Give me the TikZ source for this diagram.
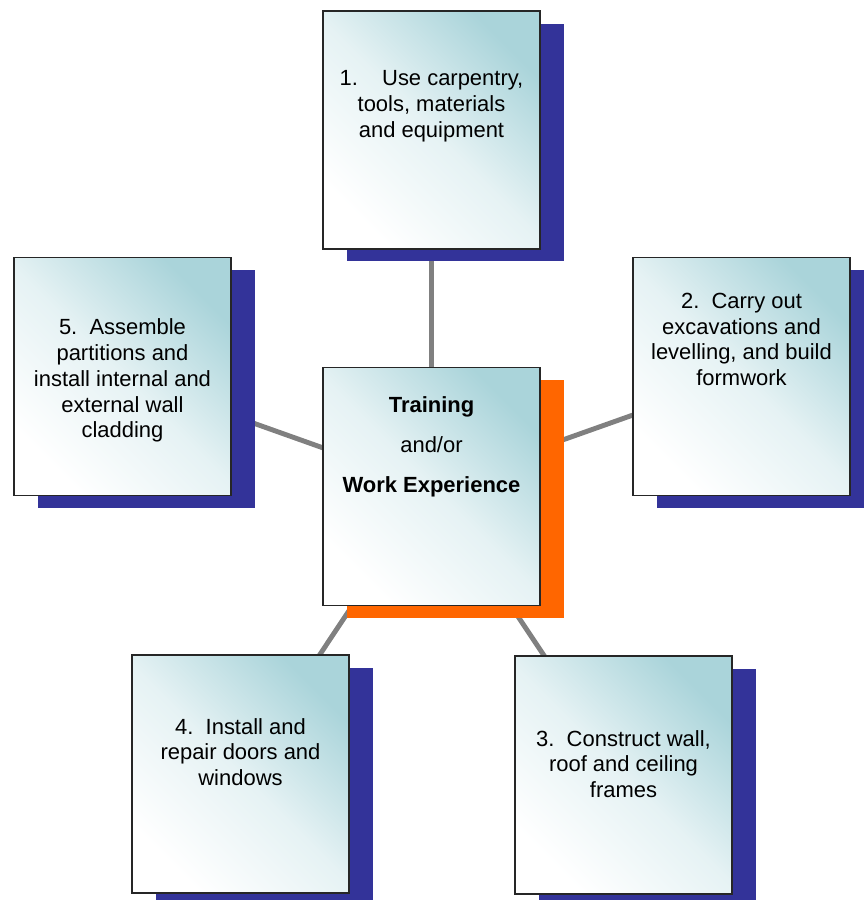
\documentclass[tikz,border=0pt]{standalone}
\usepackage{fontspec}
\setmainfont{Liberation Sans}
\usetikzlibrary{shadows,calc,backgrounds}
\definecolor{shadeblue}{RGB}{51,51,153}
\definecolor{shadeorange}{RGB}{255,102,0}
\definecolor{paleteal}{RGB}{170,212,218}
\definecolor{linkgray}{RGB}{128,128,128}

\begin{document}
\begin{tikzpicture}
[x=0.02cm,y=-0.02cm,
 task/.style={rectangle,draw=black!85,line width=0.7pt,minimum width=4.34cm,minimum height=4.76cm,inner sep=0pt,
   shading=axis,top color=paleteal,bottom color=white,middle color=paleteal!30!white,shading angle=-45,
   general shadow={shadow xshift=0.48cm,shadow yshift=-0.25cm,fill=#1,draw=none}},
 task/.default=shadeblue,
 words/.style={align=center,font=\fontsize{12.5}{14.7}\selectfont},
 link/.style={draw=linkgray,line width=2.8pt}]
\useasboundingbox (0,0) rectangle (864,900);
\clip (0,0) rectangle (864,900);
\draw (431.5,130) node[task] (b1) {};
\draw (741.5,376.5) node[task] (b2) {};
\draw (623.5,775) node[task] (b3) {};
\draw (240.5,774) node[task] (b4) {};
\draw (122.5,376.5) node[task] (b5) {};
\draw (431.5,486.5) node[task=shadeorange] (bc) {};
\node[words] (t1) at ($(b1)+(0,-24)$) {1.\hspace{1.1em}Use carpentry,\\tools, materials\\and equipment};
\node[words] (t2) at ($(b2)+(0,-37)$) {2.\ \ Carry out\\excavations and\\levelling, and build\\formwork};
\node[words] (t3) at ($(b3)+(0,-11)$) {3.\ \ Construct wall,\\roof and ceiling\\frames};
\node[words] (t4) at ($(b4)+(0,-22)$) {4.\ \ Install and\\repair doors and\\windows};
\node[words] (t5) at ($(b5)+(0,4)$) {5.\ \ Assemble\\partitions and\\install internal and\\external wall\\cladding};
\node[words] (tc) at ($(bc)+(0,-40)$) {\textbf{Training}\\[8pt]and/or\\[8pt]\textbf{Work Experience}};
\begin{scope}[on background layer]
\draw[link] (bc.center)--(b1.center);
\draw[link] (bc.center)--(b2.center);
\draw[link] (bc.center)--(b3.center);
\draw[link] (bc.center)--(b4.center);
\draw[link] (bc.center)--(b5.center);
\end{scope}
\end{tikzpicture}
\end{document}
